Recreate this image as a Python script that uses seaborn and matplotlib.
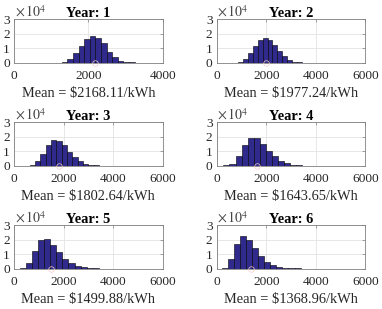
import numpy as np
import pandas as pd
import matplotlib
matplotlib.use("Agg")
import matplotlib.pyplot as plt
import seaborn as sns

# ---- data (counts per bin) ----
years = [1, 2, 3, 4, 5, 6]
means = [2168.11, 1977.24, 1802.64, 1643.65, 1499.88, 1368.96]
bin_start = [1283, 850, 635, 270, 239, 200]
bin_width = [151, 200, 215, 245, 245, 245]
year1_counts = [300, 2400, 6400, 11400, 16200, 18800, 17400, 13300, 7600, 4000, 1400, 500, 200]
year2_counts = [500, 2400, 6400, 11400, 15500, 17400, 15700, 12400, 8100, 4300, 2000, 700, 300]
year3_counts = [500, 3000, 8400, 14200, 17700, 17200, 14400, 9500, 5800, 3000, 1400, 500, 200]
year4_counts = [300, 1400, 6700, 14200, 19000, 19000, 15300, 10200, 6500, 3500, 1600, 700, 300]
year5_counts = [300, 3700, 12000, 20000, 20500, 16300, 11400, 6500, 3700, 1900, 1000, 500, 200]
year6_counts = [400, 6500, 17200, 22500, 20000, 14200, 9000, 4700, 2600, 1200, 600, 300, 150]
all_counts = [year1_counts, year2_counts, year3_counts, year4_counts, year5_counts, year6_counts]
x_max = [4000, 6000, 6000, 6000, 6000, 6000]
y_ticks = [0, 10000, 20000, 30000]
y_tick_labels = ["0", "1", "2", "3"]

sns.set_style("white")
plt.rcParams["font.family"] = ["Liberation Serif", "DejaVu Serif"]
plt.rcParams["mathtext.fontset"] = "stix"

W, H = 382, 309
fig = plt.figure(figsize=(W / 100, H / 100), dpi=100)

lefts = [14, 216.7]
tops = [19.3, 122.3, 225.3]
aw, ah = 148.7, 43.4

face = "#2f2a8c"
txt = "#262626"

for i, yr in enumerate(years):
    r, c = divmod(i, 2)
    ax = fig.add_axes([lefts[c] / W, 1 - (tops[r] + ah) / H, aw / W, ah / H])
    counts = np.array(all_counts[i], dtype=float)
    edges = bin_start[i] + bin_width[i] * np.arange(len(counts) + 1)
    centers = (edges[:-1] + edges[1:]) / 2
    df = pd.DataFrame({"cost": centers, "n": counts})
    sns.histplot(data=df, x="cost", weights="n", bins=[float(e) for e in edges], ax=ax,
                 color=face, edgecolor="black", linewidth=0.4, alpha=1.0)
    ax.plot([means[i]], [0], marker="o", ms=4, mfc="none", mec="#f7cccc",
            mew=0.5, clip_on=False, zorder=5)
    ax.set_xlim(0, x_max[i])
    ax.set_ylim(0, 30000)
    ax.set_xticks(np.arange(0, x_max[i] + 1, 2000))
    ax.set_yticks(y_ticks)
    ax.set_yticklabels(y_tick_labels)
    ax.grid(True, color="#e3e3e3", lw=0.6)
    ax.set_axisbelow(True)
    for s in ax.spines.values():
        s.set_color("#808080")
        s.set_linewidth(0.6)
    ax.tick_params(direction="in", length=2, width=0.5, colors="#808080",
                   labelcolor=txt, labelsize=9.6, top=True, right=True)
    ax.tick_params(axis="x", pad=5.5)
    ax.tick_params(axis="y", pad=3)
    ax.set_ylabel("")
    ax.set_xlabel(f"Mean = \\${means[i]:.2f}/kWh", fontsize=10.4, color=txt, labelpad=3.5)
    ax.set_title(f"Year: {yr}", fontweight="bold", fontsize=10.4, pad=2, color="black")
    ax.text(0.005, 1.0, r"$\times\,10^{4}$", transform=ax.transAxes, ha="left",
            va="bottom", fontsize=10, color="#444444")

fig.savefig("out.png", dpi=100)
